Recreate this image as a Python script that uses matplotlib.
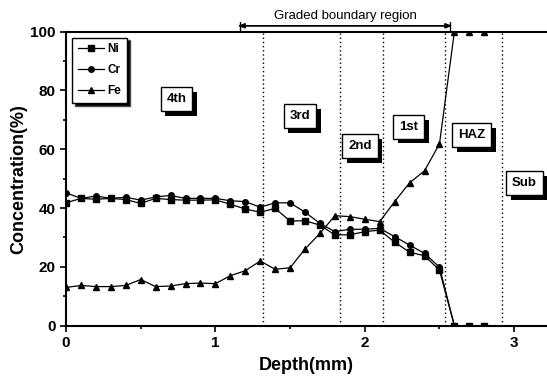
import matplotlib
matplotlib.use("Agg")
import matplotlib.pyplot as plt
import matplotlib.patheffects as pe
from matplotlib.ticker import MultipleLocator

plt.rcParams['font.family'] = ['Liberation Sans', 'DejaVu Sans']

depth = [0.0, 0.1, 0.2, 0.3, 0.4, 0.5, 0.6, 0.7, 0.8, 0.9, 1.0, 1.1, 1.2, 1.3, 1.4,
         1.5, 1.6, 1.7, 1.8, 1.9, 2.0, 2.1, 2.2, 2.3, 2.4, 2.5, 2.6, 2.7, 2.8]
ni = [41.8, 43.3, 43.0, 43.3, 42.9, 41.6, 43.3, 42.9, 42.7, 42.7, 42.8, 41.3, 39.7, 38.6, 39.9,
      35.6, 35.7, 34.2, 30.9, 30.9, 32.0, 32.5, 28.4, 25.0, 23.8, 18.9, 0, 0, 0]
cr = [45.2, 43.3, 44.1, 43.3, 43.7, 42.7, 43.8, 44.3, 43.3, 43.3, 43.3, 42.5, 42.2, 40.3, 41.8,
      41.8, 38.6, 34.8, 32.0, 32.8, 32.8, 33.1, 30.3, 27.4, 24.6, 19.9, 0, 0, 0]
fe = [13.0, 13.7, 13.3, 13.3, 13.7, 15.7, 13.3, 13.5, 14.3, 14.5, 14.3, 17.0, 18.7, 22.0, 19.2,
      19.7, 26.1, 31.4, 37.4, 37.1, 36.2, 35.4, 42.2, 48.6, 52.7, 61.8, 100, 100, 100]

boundaries = [1.32, 1.833, 2.123, 2.535, 2.92]
region_labels = ["4th", "3rd", "2nd", "1st", "HAZ", "Sub"]
region_x = [0.74, 1.565, 1.967, 2.294, 2.713, 3.07]
region_y = [77, 71.3, 61.2, 67.7, 64.9, 48.6]
graded_range = [1.149, 2.587]
graded_text = "Graded boundary region"

fig = plt.figure(figsize=(5.47, 3.80), dpi=100)
ax = fig.add_axes([0.1207, 0.1429, 0.8793, 0.7737])

ax.plot(depth, ni, color='black', lw=0.9, marker='s', ms=4, label='Ni')
ax.plot(depth, cr, color='black', lw=0.9, marker='o', ms=4, label='Cr')
ax.plot(depth, fe, color='black', lw=0.9, marker='^', ms=4, label='Fe')

for b in boundaries:
    ax.axvline(b, color='black', ls=(0, (1, 2)), lw=1.0)

shadow = [pe.withSimplePatchShadow(offset=(3.5, -3.5), shadow_rgbFace='black', alpha=1.0)]
for lab, x, y in zip(region_labels, region_x, region_y):
    t = ax.text(x, y, lab, ha='center', va='center', fontsize=9.5, fontweight='bold',
                bbox=dict(boxstyle='square,pad=0.45', fc='white', ec='black', lw=1.0),
                clip_on=False)
    t.get_bbox_patch().set_path_effects(shadow)

ax.annotate('', xy=(graded_range[1], 102), xytext=(graded_range[0], 102),
            arrowprops=dict(arrowstyle='|-|,widthA=0.3,widthB=0.3', color='black', lw=1.0),
            annotation_clip=False)
ax.annotate('', xy=(graded_range[1], 102), xytext=(graded_range[0], 102),
            arrowprops=dict(arrowstyle='<|-|>,head_length=0.4,head_width=0.15', color='black',
                            lw=1.0, shrinkA=0, shrinkB=0),
            annotation_clip=False)
ax.text(sum(graded_range) / 2, 103.3, graded_text, ha='center', va='bottom', fontsize=9.5)

ax.set_xlim(0, 3.22)
ax.set_ylim(0, 100)
ax.xaxis.set_major_locator(MultipleLocator(1))
ax.xaxis.set_minor_locator(MultipleLocator(0.5))
ax.yaxis.set_major_locator(MultipleLocator(20))
ax.yaxis.set_minor_locator(MultipleLocator(10))
ax.tick_params(which='both', direction='out', width=1.2)
ax.tick_params(which='major', length=4, labelsize=11)
ax.tick_params(which='minor', length=2.5)
for lbl in ax.get_xticklabels() + ax.get_yticklabels():
    lbl.set_fontweight('bold')
for s in ax.spines.values():
    s.set_linewidth(1.5)
ax.spines['right'].set_visible(False)

ax.set_xlabel('Depth(mm)', fontsize=13, fontweight='bold', labelpad=5)
ax.set_ylabel('Concentration(%)', fontsize=13, fontweight='bold', labelpad=2)

leg = ax.legend(loc='upper left', bbox_to_anchor=(0.0, 1.0), fontsize=8.5, frameon=True,
                fancybox=False, edgecolor='black', handlelength=2.2, borderpad=0.5,
                labelspacing=0.75, handletextpad=0.3,
                shadow={'facecolor': 'black', 'alpha': 1.0})
leg.get_frame().set_linewidth(1.0)
for t in leg.get_texts():
    t.set_fontweight('bold')

fig.savefig('out.png', dpi=100)
